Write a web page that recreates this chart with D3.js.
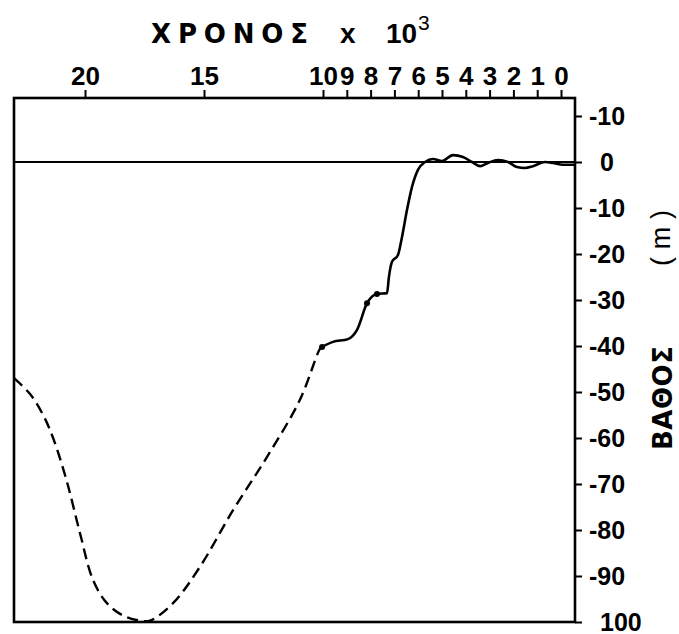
<!DOCTYPE html>
<html><head><meta charset="utf-8">
<script src="https://cdn.jsdelivr.net/npm/d3@7"></script>
<style>body{margin:0;background:#fff}svg{display:block}</style>
</head><body><svg id="c" width="679" height="634"></svg>
<script>
// ---- data ----
const timeTicks = [20, 15, 10, 9, 8, 7, 6, 5, 4, 3, 2, 1, 0];
const timeLabels = ["20", "15", "10", "9", "8", "7", "6", "5", "4", "3", "2", "1", "0"];
const depthTicks = [10, 0, -10, -20, -30, -40, -50, -60, -70, -80, -90, -100];
const depthLabels = ["-10", "0", "-10", "-20", "-30", "-40", "-50", "-60", "-70", "-80", "-90", "100"];

// dashed (inferred) sea level curve, age in kyr BP, depth in m
const dashedAge   = [22.98, 22.3, 21.76, 21.34, 20.76, 20.21, 19.66, 19.08, 18.4, 17.69, 17.27, 16.3, 15.17, 13.78, 12.35, 10.97, 10.13, 10.0];
const dashedDepth = [-47, -50.5, -55, -60, -69.5, -80.7, -90.9, -95.9, -98.6, -99.7, -99.7, -95.9, -88, -75.7, -64.1, -51.7, -40.6, -39.8];

// solid (observed) sea level curve
const solidAge   = [10.04, 9.58, 8.95, 8.57, 8.15, 7.73, 7.31, 7.23, 7.1, 6.85, 6.68, 6.47, 6.26, 6.01, 5.71, 5.38, 5.0, 4.54, 4.12, 3.74, 3.4, 3.07, 2.65, 2.23, 1.85, 1.51, 1.18, 0.67, 0.34, -0.08, -0.55];
const solidDepth = [-40.2, -39.1, -38.5, -36.5, -30.7, -28.7, -28.5, -25, -21.7, -20.2, -16.3, -10.4, -5.4, -1.7, 0, 0.65, 0.2, 1.5, 1.1, 0, -0.9, -0.2, 0.4, 0, -1.1, -1.3, -0.9, 0, -0.2, -0.6, -0.6];

const dotAge = [10.04, 8.15, 7.73];
const dotDepth = [-40.2, -30.7, -28.7];

// ---- layout ----
const svg = d3.select("#c");
const boxL = 14, boxR = 575, boxT = 98, boxB = 622;
const x = d3.scaleLinear().domain([0, 20]).range([561, 85]);
const y = d3.scaleLinear().domain([0, -100]).range([162, 622]);
const font = "'Liberation Sans', Arial, Helvetica, sans-serif";
const wide = "'DejaVu Sans', Verdana, sans-serif";

// title
const title = svg.append("g").attr("font-family", font).attr("fill", "#000");
title.append("text").attr("x", 151).attr("y", 43).attr("font-family", wide).attr("font-size", 26).attr("font-weight", "bold")
  .attr("textLength", 157).attr("lengthAdjust", "spacing").text("ΧΡΟΝΟΣ");
title.append("text").attr("x", 340).attr("y", 43).attr("font-size", 28).attr("font-weight", "bold").text("x");
title.append("text").attr("x", 386).attr("y", 43).attr("font-size", 28).attr("font-weight", "bold").text("10");
title.append("text").attr("x", 418).attr("y", 30).attr("font-size", 21).text("3");

// box
svg.append("rect").attr("x", boxL).attr("y", boxT).attr("width", boxR - boxL).attr("height", boxB - boxT)
  .attr("fill", "none").attr("stroke", "#000").attr("stroke-width", 2.6);

// zero line
svg.append("line").attr("x1", boxL).attr("x2", boxR).attr("y1", y(0)).attr("y2", y(0))
  .attr("stroke", "#000").attr("stroke-width", 1.8);

// top axis
const gx = svg.append("g").attr("transform", `translate(0,${boxT})`)
  .call(d3.axisTop(x).tickValues(timeTicks).tickFormat((d, i) => timeLabels[i])
    .tickSize(8).tickSizeOuter(0).tickPadding(5));
gx.select(".domain").remove();
gx.selectAll(".tick line").attr("stroke-width", 2);
gx.selectAll(".tick text").attr("font-family", font).attr("font-size", 26).attr("font-weight", "bold");

// right axis
const gy = svg.append("g").attr("transform", `translate(${boxR},0)`)
  .call(d3.axisRight(y).tickValues(depthTicks).tickFormat((d, i) => depthLabels[i])
    .tickSize(7).tickSizeOuter(0).tickPadding(18));
gy.select(".domain").remove();
gy.selectAll(".tick line").attr("stroke-width", 2);
gy.selectAll(".tick text").attr("font-family", font).attr("font-size", 25).attr("font-weight", "bold")
  .attr("x", function () { return this.textContent.startsWith("-") ? 14 : 25; });

// axis title
svg.append("text").attr("transform", "translate(672,398) rotate(-90)").attr("text-anchor", "middle")
  .attr("font-family", wide).attr("font-size", 26).attr("font-weight", "bold")
  .attr("textLength", 104).attr("lengthAdjust", "spacing").text("ΒΑΘΟΣ");
svg.append("text").attr("transform", "translate(670,238) rotate(-90)").attr("text-anchor", "middle")
  .attr("font-family", font).attr("font-size", 27)
  .attr("textLength", 56).attr("lengthAdjust", "spacing").text("(m)");

// curves
const dashed = dashedAge.map((a, i) => [a, dashedDepth[i]]);
const solid = solidAge.map((a, i) => [a, solidDepth[i]]);
const lineSmooth = d3.line().x(d => x(d[0])).y(d => y(d[1])).curve(d3.curveCatmullRom.alpha(0.5));
const lineMono = d3.line().x(d => x(d[0])).y(d => y(d[1])).curve(d3.curveMonotoneX);

svg.append("path").datum(dashed).attr("d", lineSmooth).attr("fill", "none").attr("stroke", "#000")
  .attr("stroke-width", 2.4).attr("stroke-dasharray", "11,6");
svg.append("path").datum(solid).attr("d", lineMono).attr("fill", "none").attr("stroke", "#000")
  .attr("stroke-width", 2.6).attr("stroke-linejoin", "round");

svg.selectAll("circle.dot").data(dotAge).join("circle").attr("class", "dot")
  .attr("cx", d => x(d)).attr("cy", (d, i) => y(dotDepth[i])).attr("r", 3).attr("fill", "#000");
</script>
</body></html>
